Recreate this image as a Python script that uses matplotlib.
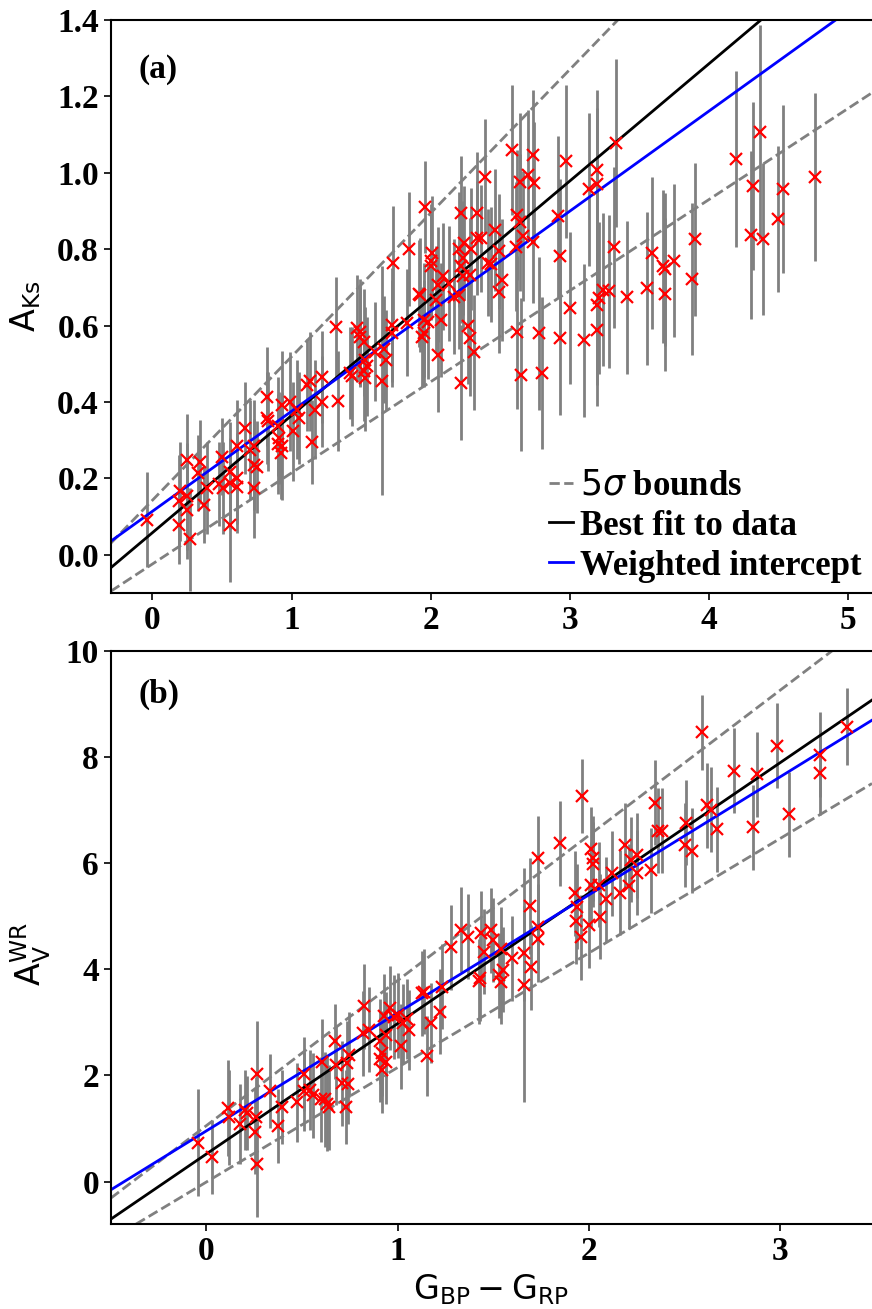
import numpy as np
import matplotlib
matplotlib.use('Agg')
import matplotlib.pyplot as plt

plt.rcParams['font.family'] = 'serif'
plt.rcParams['font.serif'] = ['Liberation Serif', 'DejaVu Serif']
plt.rcParams['font.size'] = 24
plt.rcParams['mathtext.fontset'] = 'dejavusans'

# panel (a): colour, A_Ks and its error
a_color = [-0.04, 0.19, 0.19, 0.20, 0.25, 0.27, 0.25, 0.25, 0.34, 0.33, 0.39, 0.37, 0.50, 0.475,
           0.51, 0.56, 0.56, 0.61, 0.61, 0.61, 0.56, 0.665, 0.70, 0.73, 0.73, 0.75, 0.73, 0.82,
           0.82, 0.83, 0.93, 0.90, 0.91, 0.90, 0.93, 0.92, 0.99, 1.04, 1.05, 1.01, 1.144, 1.108,
           1.13, 1.216, 1.22, 1.17, 1.335, 1.32, 1.42, 1.43, 1.467, 1.49, 1.49, 1.52, 1.53, 1.52,
           1.53, 1.54, 1.60, 1.647, 1.68, 1.66, 1.72, 1.72, 1.826, 1.92, 1.95, 1.95, 1.94, 1.958,
           1.73, 1.845, 1.917, 2.005, 2.0, 2.0, 2.05, 2.09, 2.13, 2.04, 2.07, 1.98, 2.05, 2.17,
           2.2, 2.22, 2.333, 2.2, 2.24, 2.29, 2.33, 2.36, 2.23, 2.22, 2.23, 2.27, 2.28, 2.31,
           2.22, 2.28, 2.39, 2.46, 2.49, 2.41, 2.43, 2.51, 2.49, 2.58, 2.735, 2.70, 2.64, 2.74,
           2.62, 2.64, 2.66, 2.61, 2.735, 2.616, 2.65, 2.78, 2.80, 2.97, 2.915, 2.93, 3.0, 2.93,
           3.1, 3.14, 3.195, 3.195, 3.334, 3.195, 3.195, 3.21, 3.24, 3.28, 3.315, 3.406, 3.55,
           3.59, 3.67, 3.68, 3.68, 3.75, 3.896, 3.88, 4.195, 4.363, 4.315, 4.53, 4.494, 4.30,
           4.39, 4.757]
a_ext = [0.092, 0.077, 0.142, 0.166, 0.249, 0.041, 0.118, 0.153, 0.244, 0.214, 0.175, 0.131, 0.257,
         0.186, 0.175, 0.218, 0.079, 0.284, 0.2, 0.177, 0.187, 0.332, 0.275, 0.284, 0.236, 0.23,
         0.175, 0.414, 0.358, 0.349, 0.393, 0.336, 0.305, 0.29, 0.284, 0.266, 0.401, 0.38, 0.358,
         0.323, 0.294, 0.445, 0.454, 0.465, 0.401, 0.38, 0.403, 0.596, 0.476, 0.467, 0.593, 0.583,
         0.57, 0.557, 0.51, 0.48, 0.463, 0.493, 0.532, 0.456, 0.51, 0.538, 0.602, 0.58, 0.607,
         0.68, 0.615, 0.58, 0.57, 0.91, 0.764, 0.801, 0.683, 0.79, 0.768, 0.755, 0.707, 0.729,
         0.71, 0.668, 0.615, 0.61, 0.524, 0.676, 0.68, 0.894, 0.894, 0.8, 0.816, 0.8, 0.829,
         0.829, 0.777, 0.757, 0.73, 0.598, 0.567, 0.53, 0.451, 0.733, 0.99, 0.851, 0.794, 0.764,
         0.76, 0.72, 0.687, 1.06, 1.047, 0.995, 0.977, 0.973, 0.89, 0.87, 0.835, 0.807, 0.818,
         0.582, 0.471, 0.58, 0.476, 1.03, 0.886, 0.783, 0.646, 0.567, 0.561, 0.957, 1.008, 0.97,
         1.078, 0.589, 0.654, 0.672, 0.694, 0.69, 0.805, 0.674, 0.698, 0.79, 0.755, 0.747, 0.682,
         0.77, 0.826, 0.722, 1.036, 1.106, 0.966, 0.957, 0.879, 0.838, 0.827, 0.99]
a_err = [0.125, 0.1, 0.12, 0.13, 0.12, 0.135, 0.13, 0.14, 0.11, 0.1, 0.12, 0.1, 0.1, 0.11, 0.12,
         0.13, 0.15, 0.12, 0.12, 0.12, 0.12, 0.12, 0.13, 0.12, 0.12, 0.12, 0.13, 0.13, 0.12, 0.13,
         0.14, 0.13, 0.12, 0.13, 0.14, 0.12, 0.13, 0.13, 0.12, 0.13, 0.11, 0.12, 0.13, 0.12, 0.12,
         0.13, 0.13, 0.13, 0.12, 0.13, 0.14, 0.14, 0.13, 0.14, 0.14, 0.13, 0.14, 0.13, 0.13, 0.3,
         0.13, 0.14, 0.15, 0.14, 0.14, 0.15, 0.15, 0.14, 0.13, 0.12, 0.15, 0.15, 0.14, 0.15, 0.15,
         0.14, 0.15, 0.14, 0.15, 0.14, 0.15, 0.15, 0.15, 0.15, 0.14, 0.15, 0.16, 0.15, 0.15, 0.16,
         0.15, 0.14, 0.15, 0.15, 0.14, 0.15, 0.15, 0.15, 0.15, 0.15, 0.15, 0.16, 0.15, 0.14, 0.15,
         0.16, 0.16, 0.17, 0.17, 0.17, 0.18, 0.16, 0.17, 0.18, 0.17, 0.17, 0.16, 0.2, 0.2, 0.2,
         0.2, 0.2, 0.21, 0.2, 0.2, 0.2, 0.2, 0.2, 0.21, 0.2, 0.22, 0.2, 0.21, 0.2, 0.2, 0.2, 0.21,
         0.2, 0.2, 0.2, 0.2, 0.2, 0.2, 0.2, 0.2, 0.2, 0.23, 0.28, 0.22, 0.22, 0.19, 0.22, 0.2, 0.22]

# panel (b): colour, A_V^WR and its error
b_color = [-0.044, 0.031, 0.113, 0.12, 0.175, 0.2, 0.21, 0.259, 0.255, 0.266, 0.266, 0.332, 0.372,
           0.394, 0.472, 0.511, 0.511, 0.54, 0.56, 0.60, 0.62, 0.63, 0.64, 0.604, 0.673, 0.68,
           0.735, 0.744, 0.71, 0.74, 0.73, 0.826, 0.82, 0.85, 0.91, 0.92, 0.91, 0.92, 0.94, 0.927,
           0.94, 0.962, 0.98, 1.0, 1.015, 1.03, 1.06, 1.05, 1.151, 1.128, 1.14, 1.176, 1.221,
           1.23, 1.277, 1.33, 1.368, 1.426, 1.435, 1.487, 1.45, 1.50, 1.54, 1.43, 1.53, 1.55,
           1.54, 1.60, 1.66, 1.697, 1.66, 1.694, 1.732, 1.732, 1.732, 1.851, 1.963, 1.925, 1.94,
           1.935, 1.96, 2.003, 2.056, 2.012, 2.02, 2.02, 2.01, 2.055, 2.09, 2.12, 2.16, 2.187,
           2.22, 2.25, 2.21, 2.25, 2.327, 2.344, 2.36, 2.38, 2.502, 2.51, 2.54, 2.59, 2.616, 2.64,
           2.668, 2.756, 2.878, 2.86, 2.983, 3.045, 3.21, 3.21, 3.35]
b_ext = [0.735, 0.46, 1.39, 1.21, 1.08, 1.35, 1.29, 1.22, 0.94, 2.03, 0.33, 1.70, 1.05, 1.40, 1.49,
         2.03, 1.70, 1.73, 1.63, 1.55, 1.55, 1.47, 1.40, 2.26, 2.64, 2.2, 2.23, 2.39, 1.85, 1.84,
         1.40, 3.30, 2.79, 2.86, 2.64, 2.42, 2.30, 2.10, 2.26, 3.11, 2.77, 3.27, 3.10, 3.13, 2.55,
         2.98, 2.86, 3.06, 2.37, 3.55, 3.58, 2.99, 3.20, 3.67, 4.41, 4.74, 4.61, 3.77, 4.68, 4.73,
         4.33, 4.55, 4.38, 3.83, 3.89, 3.99, 3.76, 4.21, 4.30, 4.04, 3.7, 5.19, 4.80, 4.56, 6.09,
         6.37, 7.26, 5.43, 5.18, 4.90, 4.60, 4.83, 4.99, 6.26, 6.09, 5.98, 5.59, 5.59, 5.32, 5.81,
         5.44, 6.34, 6.06, 6.15, 5.56, 5.82, 5.86, 7.14, 6.61, 6.61, 6.34, 6.76, 6.23, 8.46, 7.09,
         7.0, 6.64, 7.74, 7.67, 6.67, 8.21, 6.92, 8.04, 7.70, 8.57]
b_err = [1.0, 0.7, 0.9, 0.9, 0.75, 0.75, 0.7, 0.75, 0.8, 1.0, 1.0, 0.7, 0.7, 0.7, 0.75, 0.7, 0.75,
         0.75, 0.8, 0.8, 0.9, 0.9, 0.8, 0.8, 0.7, 0.75, 0.8, 0.8, 0.8, 0.75, 0.7, 0.8, 0.8, 0.8,
         0.8, 0.8, 0.8, 0.8, 0.8, 0.8, 0.8, 0.8, 0.8, 0.8, 0.8, 0.75, 0.75, 0.75, 0.75, 0.8, 0.8,
         0.75, 0.8, 0.8, 0.8, 0.8, 0.8, 0.8, 0.8, 0.8, 0.8, 0.8, 0.8, 0.8, 0.8, 0.8, 0.8, 0.8,
         0.9, 0.8, 2.2, 0.9, 0.8, 0.8, 0.8, 0.8, 0.7, 0.8, 0.8, 0.8, 0.8, 0.8, 0.8, 0.8, 0.8, 0.8,
         0.8, 0.8, 0.8, 0.8, 0.8, 0.8, 0.8, 0.8, 0.8, 0.8, 0.8, 0.8, 0.8, 0.8, 0.8, 0.8, 0.8, 0.7,
         0.8, 0.8, 0.8, 0.8, 0.8, 0.8, 0.8, 0.8, 0.8, 0.8, 0.72]

# fitted lines (intercept, slope): upper bound, lower bound, best fit, weighted
a_fits = {'upper': (0.143, 0.376), 'lower': (-0.024, 0.2386), 'best': (0.058, 0.307), 'weighted': (0.114, 0.262)}
b_fits = {'upper': (1.054, 2.734), 'lower': (-0.008, 2.157), 'best': (0.52, 2.457), 'weighted': (0.955, 2.223)}

fig = plt.figure(figsize=(8.72, 13.09), dpi=100)
ax1 = fig.add_axes([0.127, 0.547, 0.873, 0.4377])
ax2 = fig.add_axes([0.127, 0.0649, 0.873, 0.438])


def draw_panel(ax, xs, ys, errs, fits, xlim, ylim):
    ax.errorbar(xs, ys, yerr=errs, fmt='none', ecolor='gray', elinewidth=2, zorder=1)
    xx = np.array(xlim)
    for key in ['upper', 'lower']:
        b, m = fits[key]
        ax.plot(xx, b + m * xx, '--', color='gray', lw=2, zorder=2,
                label=r'$5\sigma$ bounds' if key == 'upper' else None)
    b, m = fits['best']
    ax.plot(xx, b + m * xx, color='black', lw=2, zorder=2, label='Best fit to data')
    b, m = fits['weighted']
    ax.plot(xx, b + m * xx, color='blue', lw=2, zorder=2, label='Weighted intercept')
    ax.plot(xs, ys, 'x', color='red', ms=9, mew=1.6, zorder=3)
    ax.set_xlim(xlim)
    ax.set_ylim(ylim)
    ax.spines['right'].set_visible(False)
    ax.tick_params(direction='out', length=5, width=1.2)
    for s in ['left', 'top', 'bottom']:
        ax.spines[s].set_linewidth(1.5)


draw_panel(ax1, a_color, a_ext, a_err, a_fits, (-0.3, 5.17), (-0.1, 1.4))
draw_panel(ax2, b_color, b_ext, b_err, b_fits, (-0.5, 3.48), (-0.8, 10))

ax1.set_xticks([0, 1, 2, 3, 4, 5])
ax1.set_yticks([0.0, 0.2, 0.4, 0.6, 0.8, 1.0, 1.2, 1.4])
ax1.set_yticklabels(['%.1f' % v for v in ax1.get_yticks()])
ax2.set_xticks([0, 1, 2, 3])
ax2.set_yticks([0, 2, 4, 6, 8, 10])
for ax in [ax1, ax2]:
    for lab in ax.get_xticklabels() + ax.get_yticklabels():
        lab.set_fontweight('bold')

ax1.set_ylabel(r'$\mathrm{A_{Ks}}$', fontsize=24)
ax2.set_ylabel(r'$\mathrm{A_V^{WR}}$', fontsize=24)
ax1.yaxis.set_label_coords(-0.089, 0.5)
ax2.yaxis.set_label_coords(-0.076, 0.47)
ax2.set_xlabel(r'$\mathrm{G_{BP} - G_{RP}}$', fontsize=24)

ax1.text(0.037, 0.913, '(a)', transform=ax1.transAxes, va='center', ha='left', fontweight='bold')
ax2.text(0.037, 0.923, '(b)', transform=ax2.transAxes, va='center', ha='left', fontweight='bold')

ax1.legend(loc='lower right', frameon=False, handlelength=0.7, handletextpad=0.2,
           labelspacing=0.2, borderpad=0.2, borderaxespad=0.1,
           prop={'weight': 'bold', 'size': 25})

fig.savefig('out.png', dpi=100)
